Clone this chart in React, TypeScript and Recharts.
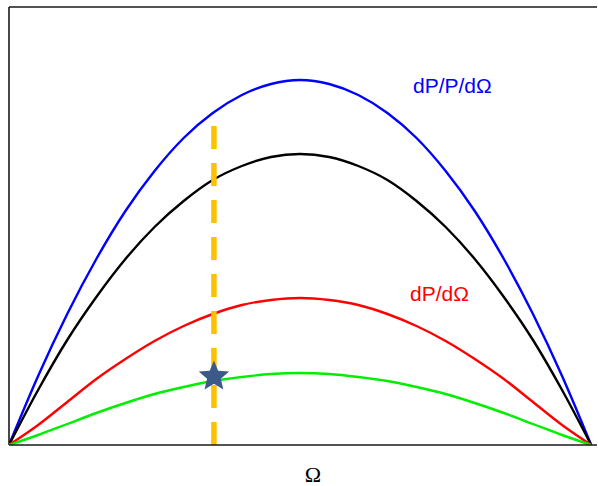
import React from "react";
import {
  LineChart,
  Line,
  XAxis,
  YAxis,
  Scatter,
  ReferenceLine,
} from "recharts";

const W = 598;
const H = 486;

// x positions along Ω (fraction of the span)
const OMEGA = [
  0, 0.05, 0.1, 0.15, 0.2, 0.25, 0.3, 0.35, 0.4, 0.45, 0.5,
  0.55, 0.6, 0.65, 0.7, 0.75, 0.8, 0.85, 0.9, 0.95, 1,
];
// dP/P/dΩ (blue)
const BLUE = [0, 69, 131, 186, 234, 274, 307, 332, 350, 361, 365, 361, 350, 332, 307, 274, 234, 186, 131, 69, 0];
// black curve
const BLACK = [0, 55, 105, 148, 186, 218, 244, 265, 279, 288, 291, 288, 279, 265, 244, 218, 186, 148, 105, 55, 0];
// dP/dΩ (red)
const RED = [0, 20, 43, 66, 86, 104, 119, 131, 140, 145, 147, 145, 140, 131, 119, 104, 86, 66, 43, 20, 0];
// green curve
const GREEN = [0, 10, 21, 32, 42, 51, 58, 64, 68, 71, 72, 71, 68, 64, 58, 51, 42, 32, 21, 10, 0];

const MARK_X = 0.352;
const MARK_TOP = 319;
const STAR = [{ x: 0.352, y: 70 }];

const rows = OMEGA.map((x, i) => ({
  x,
  blue: BLUE[i],
  black: BLACK[i],
  red: RED[i],
  green: GREEN[i],
}));

const AXIS = { stroke: "#1a1a1a", strokeWidth: 1.6 };
const SANS = "'Liberation Sans', Arial, sans-serif";

function StarShape({ cx, cy }: any) {
  if (cx == null || cy == null) return null;
  const R = 16;
  const r = R * 0.45;
  const pts: string[] = [];
  for (let k = 0; k < 10; k++) {
    const a = -Math.PI / 2 + (k * Math.PI) / 5;
    const rad = k % 2 === 0 ? R : r;
    pts.push(`${cx + rad * Math.cos(a)},${cy + 1.5 + rad * Math.sin(a)}`);
  }
  return <polygon points={pts.join(" ")} fill="#3c5a88" />;
}

export default function App() {
  return (
    <div style={{ position: "absolute", left: 0, top: 0, width: W, height: H, background: "#fff" }}>
      <LineChart width={W} height={H} data={rows} margin={{ top: 7, right: 1, left: 9, bottom: 0 }}>
        <XAxis
          dataKey="x"
          type="number"
          domain={[0, 1.01]}
          allowDataOverflow
          tick={false}
          tickLine={false}
          axisLine={AXIS}
          height={41}
        />
        <YAxis type="number" domain={[0, 438]} allowDataOverflow tick={false} tickLine={false} axisLine={false} width={0} />
        <ReferenceLine y={438} stroke="#1a1a1a" strokeWidth={1.6} />
        <ReferenceLine x={0} stroke="#1a1a1a" strokeWidth={1.6} />
        <Line dataKey="blue" stroke="#0000ff" strokeWidth={2.4} dot={false} type="monotone" isAnimationActive={false} />
        <Line dataKey="black" stroke="#000" strokeWidth={2.4} dot={false} type="monotone" isAnimationActive={false} />
        <Line dataKey="red" stroke="#ff0000" strokeWidth={2.4} dot={false} type="monotone" isAnimationActive={false} />
        <Line dataKey="green" stroke="#00ee00" strokeWidth={2.4} dot={false} type="monotone" isAnimationActive={false} />
        <ReferenceLine
          segment={[
            { x: MARK_X, y: 0 },
            { x: MARK_X, y: MARK_TOP },
          ]}
          stroke="#ffc000"
          strokeWidth={5.5}
          strokeDasharray="23 14"
        />
        <Scatter data={STAR} dataKey="y" shape={<StarShape />} isAnimationActive={false} />
        <text x={413} y={93} fill="#0000ff" fontSize={21} fontFamily={SANS}>
          dP/P/dΩ
        </text>
        <text x={410} y={301} fill="#ff0000" fontSize={21} fontFamily={SANS}>
          dP/dΩ
        </text>
        <text x={313} y={482} fill="#000" fontSize={22} fontFamily="'Liberation Serif', 'Times New Roman', serif" textAnchor="middle">
          Ω
        </text>
      </LineChart>
    </div>
  );
}
